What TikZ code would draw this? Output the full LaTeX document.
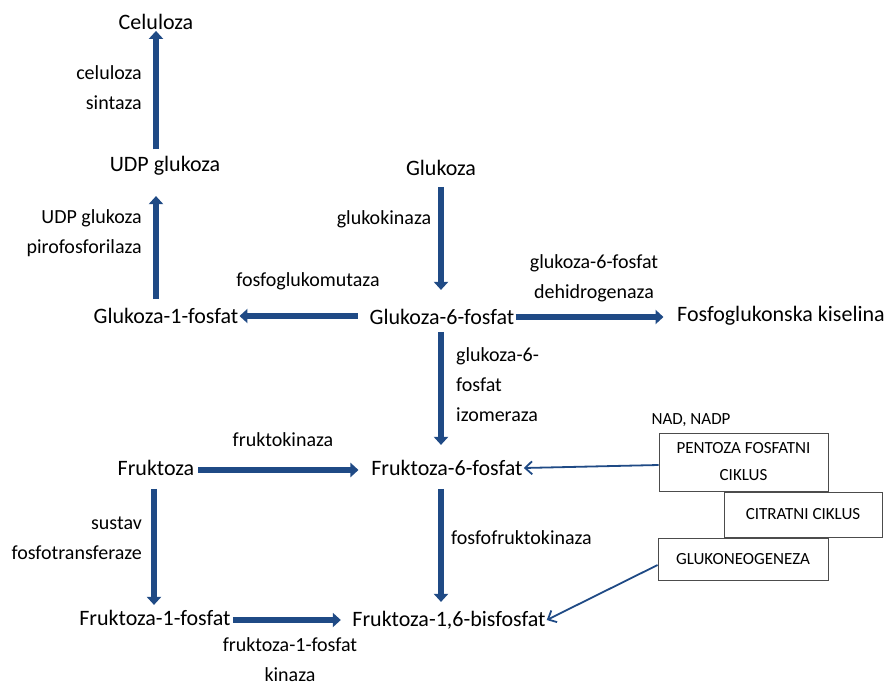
\documentclass[tikz,border=0pt]{standalone}
\usepackage{fontspec}
\setmainfont{Carlito}
\usetikzlibrary{arrows.meta}
\definecolor{arr}{HTML}{1F4A85}
\begin{document}
\begin{tikzpicture}[x=1pt,y=-1pt,
  main/.style={font=\fontsize{22}{24}\selectfont, inner sep=1pt},
  lab/.style={font=\fontsize{20}{30}\selectfont, align=center, inner sep=1pt},
  labl/.style={font=\fontsize{20}{30}\selectfont, align=left, inner sep=1pt},
  labr/.style={font=\fontsize{20}{30}\selectfont, align=right, inner sep=1pt, anchor=east},
  bx/.style={draw=black!70, line width=0.8pt, font=\fontsize{17}{27}\selectfont, align=center, inner sep=2pt},
  thick arr/.style={draw=arr, line width=5.5pt, -{Triangle[length=8pt,width=14pt]}},
  thin arr/.style={draw=arr, line width=1.8pt, -{Straight Barb[length=7pt,width=13pt]}}]
\useasboundingbox (0,0) rectangle (886,688);
\node[main] (cel) at (156,22) {Celuloza};
\node[main] (udp) at (165,166) {UDP glukoza};
\node[main] (g1p) at (166,316) {Glukoza-1-fosfat};
\node[main] (glu) at (441,168) {Glukoza};
\node[main] (g6p) at (442,317) {Glukoza-6-fosfat};
\node[main] (fgk) at (781,316) {Fosfoglukonska kiselina};
\node[main] (fru) at (156,468) {Fruktoza};
\node[main] (f6p) at (447,468) {Fruktoza-6-fosfat};
\node[main] (f1p) at (155,618) {Fruktoza-1-fosfat};
\node[main] (f16) at (449,620) {Fruktoza-1,6-bisfosfat};

\node[labr] (l1) at (143,88) {celuloza\\sintaza};
\node[labr] (l2) at (143,233) {UDP glukoza\\pirofosforilaza};
\node[lab] (l3) at (308,281) {fosfoglukomutaza};
\node[lab] (l4) at (384,219) {glukokinaza};
\node[lab] (l5) at (594,278) {glukoza-6-fosfat\\dehidrogenaza};
\node[labl, anchor=west] (l6) at (455,385) {glukoza-6-\\fosfat\\izomeraza};
\node[lab] (l7) at (283,440) {fruktokinaza};
\node[labl, anchor=west] (l8) at (450,538) {fosfofruktokinaza};
\node[labr] (l9) at (143,538) {sustav\\fosfotransferaze};
\node[lab] (l10) at (290,660) {fruktoza-1-fosfat\\kinaza};

\node[bx, minimum width=169pt, minimum height=58pt] (pfc) at (743.5,462) {PENTOZA FOSFATNI\\CIKLUS};
\node[bx, minimum width=158pt, minimum height=45pt] (cc) at (803,514.5) {CITRATNI CIKLUS};
\node[bx, minimum width=170pt, minimum height=42pt] (gng) at (743,559) {GLUKONEOGENEZA};
\node[font=\fontsize{17}{19}\selectfont, inner sep=1pt] (nad) at (691,420) {NAD, NADP};

\draw[thick arr] (udp.north -| cel.south) ++(0,-6) -- (cel.south);
\draw[thick arr] (g1p.north -| cel.south) ++(0,-8) -- ++(0,-103);
\draw[thick arr] (g6p.west) ++(-11,-1) -- (g1p.east);
\draw[thick arr] (glu.south) ++(0,10) -- ++(0,103);
\draw[thick arr] (g6p.east) -- ++(148,0);
\draw[thick arr] (g6p.south) ++(-1,6) -- ++(0,113);
\draw[thick arr] (fru.east) ++(3,2) -- ++(160,0);
\draw[thick arr] (f6p.south) ++(-6,12) -- ++(0,113);
\draw[thick arr] (fru.south) ++(-2,12) -- ++(0,116);
\draw[thick arr] (f1p.east) ++(1,2) -- ++(108,0);
\draw[thin arr] (pfc.west) ++(0,3) -- (f6p.east);
\draw[thin arr] (gng.west) ++(0,6) -- (f16.east);
\end{tikzpicture}
\end{document}
